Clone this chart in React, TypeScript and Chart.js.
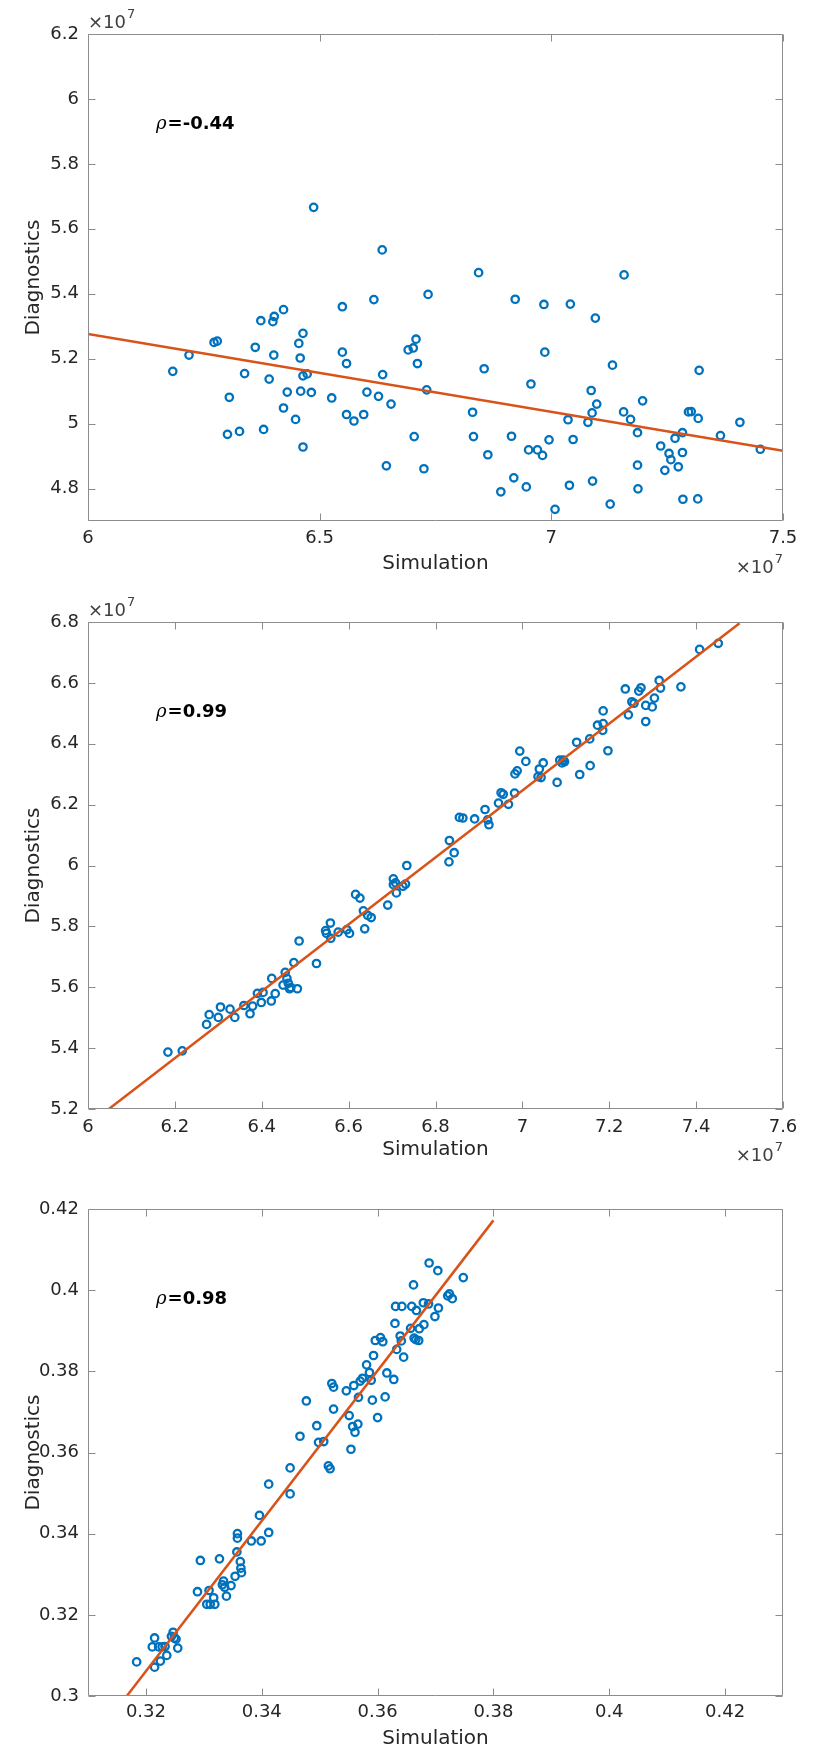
import React, { useEffect, useRef } from "react";
import { Chart, registerables } from "chart.js";
Chart.register(...registerables);

// ---------- Data (plots 1 and 2 in units of 1e7) ----------
const sim1 = [6.183, 6.218, 6.272, 6.279, 6.305, 6.301, 6.327, 6.338, 6.361, 6.373,
  6.379, 6.391, 6.399, 6.402, 6.401, 6.422, 6.422, 6.430, 6.448, 6.455,
  6.458, 6.464, 6.459, 6.464, 6.473, 6.482, 6.464, 6.487, 6.526, 6.549,
  6.549, 6.558, 6.558, 6.574, 6.595, 6.602, 6.617, 6.627, 6.635, 6.636,
  6.644, 6.654, 6.691, 6.702, 6.708, 6.704, 6.711, 6.731, 6.734, 6.725,
  6.830, 6.832, 6.843, 6.855, 6.863, 6.891, 6.914, 6.919, 6.922, 6.946,
  6.951, 6.956, 6.970, 6.981, 6.984, 6.986, 6.995, 7.008, 7.036, 7.039,
  7.041, 7.047, 7.079, 7.086, 7.088, 7.089, 7.095, 7.098, 7.127, 7.132,
  7.156, 7.157, 7.171, 7.186, 7.186, 7.187, 7.197, 7.236, 7.245, 7.254,
  7.258, 7.267, 7.274, 7.283, 7.283, 7.284, 7.296, 7.302, 7.316, 7.317,
  7.319, 7.365, 7.407, 7.451];
const diag1 = [5.161, 5.211, 5.250, 5.254, 5.081, 4.967, 4.976, 5.154, 5.235, 5.317,
  4.982, 5.137, 5.314, 5.330, 5.211, 5.351, 5.048, 5.097, 5.013, 5.247,
  5.202, 5.278, 5.100, 5.147, 5.153, 5.096, 4.928, 5.666, 5.079, 5.360,
  5.220, 5.185, 5.028, 5.008, 5.028, 5.097, 5.382, 5.084, 5.535, 5.151,
  4.870, 5.060, 5.227, 5.233, 5.260, 4.960, 5.185, 5.104, 5.398, 4.861,
  5.035, 4.960, 5.465, 5.169, 4.904, 4.790, 4.961, 4.833, 5.383, 4.805,
  4.919, 5.122, 4.919, 4.902, 5.367, 5.220, 4.950, 4.736, 5.012, 4.810,
  5.368, 4.951, 5.004, 5.102, 5.033, 4.823, 5.325, 5.060, 4.752, 5.180,
  5.036, 5.458, 5.013, 4.972, 4.872, 4.799, 5.070, 4.931, 4.856, 4.908,
  4.889, 4.955, 4.867, 4.972, 4.911, 4.767, 5.036, 5.037, 4.768, 5.016,
  5.164, 4.963, 5.004, 4.921];
const fit1X = [6.0, 7.5];
const fit1Y = [5.276, 4.916];

const sim2 = [6.184, 6.217, 6.273, 6.279, 6.300, 6.305, 6.327, 6.338, 6.359, 6.373,
  6.379, 6.390, 6.399, 6.403, 6.422, 6.423, 6.431, 6.449, 6.454, 6.458,
  6.461, 6.464, 6.467, 6.474, 6.482, 6.486, 6.526, 6.547, 6.549, 6.558,
  6.559, 6.576, 6.596, 6.602, 6.616, 6.626, 6.634, 6.637, 6.644, 6.652,
  6.690, 6.703, 6.703, 6.708, 6.710, 6.725, 6.731, 6.734, 6.831, 6.832,
  6.843, 6.855, 6.863, 6.890, 6.914, 6.920, 6.923, 6.945, 6.951, 6.956,
  6.968, 6.982, 6.983, 6.988, 6.994, 7.008, 7.036, 7.039, 7.043, 7.048,
  7.080, 7.086, 7.091, 7.094, 7.097, 7.125, 7.132, 7.155, 7.156, 7.173,
  7.185, 7.186, 7.186, 7.197, 7.237, 7.244, 7.252, 7.257, 7.268, 7.273,
  7.284, 7.284, 7.299, 7.304, 7.315, 7.318, 7.365, 7.408, 7.451];
const diag2 = [5.387, 5.391, 5.478, 5.510, 5.501, 5.535, 5.528, 5.501, 5.540, 5.513,
  5.538, 5.580, 5.550, 5.583, 5.555, 5.629, 5.579, 5.607, 5.649, 5.629,
  5.613, 5.595, 5.599, 5.681, 5.595, 5.752, 5.678, 5.786, 5.777, 5.811,
  5.761, 5.781, 5.789, 5.777, 5.905, 5.893, 5.851, 5.792, 5.836, 5.829,
  5.870, 5.956, 5.937, 5.943, 5.910, 5.932, 5.939, 6.000, 6.012, 6.082,
  6.042, 6.158, 6.156, 6.153, 6.184, 6.150, 6.134, 6.205, 6.239, 6.234,
  6.201, 6.238, 6.301, 6.311, 6.376, 6.342, 6.292, 6.317, 6.289, 6.337,
  6.273, 6.346, 6.337, 6.346, 6.341, 6.405, 6.299, 6.416, 6.328, 6.461,
  6.444, 6.466, 6.508, 6.377, 6.580, 6.495, 6.538, 6.533, 6.573, 6.584,
  6.526, 6.473, 6.521, 6.550, 6.608, 6.583, 6.587, 6.710, 6.730];
const fit2X = [6.048, 7.5];
const fit2Y = [5.2, 6.796];

const sim3 = [0.3184, 0.3215, 0.3211, 0.3215, 0.3222, 0.3225, 0.3228, 0.3233, 0.3236, 0.3244,
  0.3247, 0.3249, 0.3252, 0.3255, 0.3289, 0.3294, 0.3305, 0.3309, 0.3311, 0.3317,
  0.3319, 0.3327, 0.3332, 0.3334, 0.3336, 0.3339, 0.3347, 0.3354, 0.3357, 0.3358,
  0.3358, 0.3363, 0.3364, 0.3365, 0.3382, 0.3396, 0.3399, 0.3412, 0.3412, 0.3449,
  0.3449, 0.3466, 0.3477, 0.3495, 0.3498, 0.3507, 0.3515, 0.3518, 0.3521, 0.3524,
  0.3524, 0.3546, 0.3551, 0.3554, 0.3557, 0.3559, 0.3561, 0.3566, 0.3567, 0.3570,
  0.3574, 0.3581, 0.3586, 0.3589, 0.3591, 0.3593, 0.3596, 0.3600, 0.3605, 0.3609,
  0.3613, 0.3616, 0.3628, 0.3630, 0.3631, 0.3633, 0.3639, 0.3641, 0.3642, 0.3645,
  0.3657, 0.3659, 0.3662, 0.3663, 0.3666, 0.3667, 0.3671, 0.3672, 0.3679, 0.3680,
  0.3688, 0.3689, 0.3699, 0.3704, 0.3705, 0.3721, 0.3724, 0.3729, 0.3748];
const diag3 = [0.3084, 0.3143, 0.3121, 0.3071, 0.3121, 0.3086, 0.3121, 0.3122, 0.3100, 0.3147,
  0.3157, 0.3143, 0.3140, 0.3118, 0.3257, 0.3334, 0.3226, 0.3260, 0.3226, 0.3242,
  0.3226, 0.3338, 0.3274, 0.3283, 0.3268, 0.3246, 0.3272, 0.3295, 0.3355, 0.3400,
  0.3389, 0.3331, 0.3315, 0.3304, 0.3382, 0.3445, 0.3382, 0.3403, 0.3522, 0.3562,
  0.3498, 0.3640, 0.3727, 0.3666, 0.3625, 0.3627, 0.3567, 0.3560, 0.3770, 0.3761,
  0.3707, 0.3752, 0.3691, 0.3608, 0.3664, 0.3765, 0.3650, 0.3670, 0.3736, 0.3776,
  0.3783, 0.3816, 0.3797, 0.3778, 0.3729, 0.3839, 0.3876, 0.3686, 0.3883, 0.3873,
  0.3737, 0.3796, 0.3780, 0.3918, 0.3960, 0.3854, 0.3887, 0.3875, 0.3960, 0.3835,
  0.3906, 0.3960, 0.4013, 0.3882, 0.3878, 0.3950, 0.3876, 0.3905, 0.3969, 0.3915,
  0.3966, 0.4067, 0.3935, 0.4048, 0.3956, 0.3986, 0.3991, 0.3979, 0.4031];
const fit3X = [0.3167, 0.38];
const fit3Y = [0.30, 0.4172];

// ---------- Ticks ----------
const xTicks1 = [6, 6.5, 7, 7.5];
const yTicks1 = [4.8, 5, 5.2, 5.4, 5.6, 5.8, 6, 6.2];
const xTicks2 = [6, 6.2, 6.4, 6.6, 6.8, 7, 7.2, 7.4, 7.6];
const yTicks2 = [5.2, 5.4, 5.6, 5.8, 6, 6.2, 6.4, 6.6, 6.8];
const xTicks3 = [0.32, 0.34, 0.36, 0.38, 0.4, 0.42];
const yTicks3 = [0.3, 0.32, 0.34, 0.36, 0.38, 0.4, 0.42];

const rhoLabels = ["-0.44", "0.99", "0.98"];
const X_TITLE = "Simulation";
const Y_TITLE = "Diagnostics";

const FONT = "DejaVu Sans";
const TEXT = "#262626";
const BLUE = "#0072BD";
const ORANGE = "#D95319";

type Plot = {
  xs: number[]; ys: number[]; fx: number[]; fy: number[];
  xMin: number; xMax: number; yMin: number; yMax: number;
  xTicks: number[]; yTicks: number[]; rho: string; exp: boolean;
  top: number; h: number; padTop: number; xH: number; titlePad: number; tickPad: number;
};

const PLOTS: Plot[] = [
  { xs: sim1, ys: diag1, fx: fit1X, fy: fit1Y, xMin: 6, xMax: 7.5, yMin: 4.7, yMax: 6.2,
    xTicks: xTicks1, yTicks: yTicks1, rho: rhoLabels[0], exp: true,
    top: 0, h: 590, padTop: 34, xH: 69, titlePad: 14, tickPad: 7 },
  { xs: sim2, ys: diag2, fx: fit2X, fy: fit2Y, xMin: 6, xMax: 7.6, yMin: 5.2, yMax: 6.8,
    xTicks: xTicks2, yTicks: yTicks2, rho: rhoLabels[1], exp: true,
    top: 590, h: 590, padTop: 32, xH: 71, titlePad: 18, tickPad: 8 },
  { xs: sim3, ys: diag3, fx: fit3X, fy: fit3Y, xMin: 0.31, xMax: 0.43, yMin: 0.3, yMax: 0.42,
    xTicks: xTicks3, yTicks: yTicks3, rho: rhoLabels[2], exp: false,
    top: 1180, h: 571, padTop: 29, xH: 55, titlePad: 0, tickPad: 6 },
];

const fmt = (v: number) => String(Math.round(v * 10000) / 10000);

const framePlugin = {
  id: "frame",
  afterDatasetsDraw(chart: any, _args: any, opts: any) {
    const { ctx, chartArea: a, scales } = chart;
    const L = Math.round(a.left) + 0.5, R = Math.round(a.right) - 0.5;
    const T = Math.round(a.top) + 0.5, B = Math.round(a.bottom) - 0.5;
    ctx.save();
    ctx.strokeStyle = "#8c8c8c";
    ctx.lineWidth = 1;
    ctx.beginPath();
    ctx.rect(L, T, R - L, B - T);
    const tl = 7;
    scales.x.ticks.forEach((t: any) => {
      const p = Math.round(scales.x.getPixelForValue(t.value)) + 0.5;
      ctx.moveTo(p, B); ctx.lineTo(p, B - tl);
      ctx.moveTo(p, T); ctx.lineTo(p, T + tl);
    });
    scales.y.ticks.forEach((t: any) => {
      const p = Math.round(scales.y.getPixelForValue(t.value)) + 0.5;
      ctx.moveTo(L, p); ctx.lineTo(L + tl, p);
      ctx.moveTo(R, p); ctx.lineTo(R - tl, p);
    });
    ctx.stroke();

    // rho annotation
    const ry = a.top + 90.5;
    let rx = a.left + 68;
    ctx.fillStyle = "#000";
    ctx.textBaseline = "middle";
    ctx.textAlign = "left";
    ctx.font = `italic 18px "DejaVu Serif"`;
    ctx.fillText("ρ", rx, ry);
    rx += ctx.measureText("ρ").width + 1;
    ctx.font = `bold 18px "${FONT}"`;
    ctx.fillText("=" + opts.rho, rx, ry);

    // exponent labels
    if (opts.exp) {
      const drawExp = (xLeft: number, yc: number) => {
        ctx.fillStyle = "#404040";
        ctx.font = `18px "${FONT}"`;
        ctx.textAlign = "left";
        ctx.fillText("×10", xLeft, yc);
        const w = ctx.measureText("×10").width;
        ctx.font = `13px "${FONT}"`;
        ctx.fillText("7", xLeft + w + 1, yc - 8);
      };
      drawExp(a.left, a.top - 11);
      ctx.font = `18px "${FONT}"`;
      const w1 = ctx.measureText("×10").width;
      ctx.font = `13px "${FONT}"`;
      const w2 = ctx.measureText("7").width;
      drawExp(a.right - w1 - w2 - 1, a.bottom + 47);
    }
    ctx.restore();
  },
};

function makeConfig(p: Plot): any {
  return {
    type: "scatter",
    data: {
      datasets: [
        {
          type: "line",
          data: p.fx.map((v, i) => ({ x: v, y: p.fy[i] })),
          borderColor: ORANGE,
          borderWidth: 2.5,
          pointRadius: 0,
          showLine: true,
          fill: false,
          tension: 0,
        },
        {
          type: "scatter",
          data: p.xs.map((v, i) => ({ x: v, y: p.ys[i] })),
          pointStyle: "circle",
          pointRadius: 3.7,
          pointBorderWidth: 2.3,
          borderWidth: 2.3,
          borderColor: BLUE,
          pointBorderColor: BLUE,
          backgroundColor: "rgba(0,0,0,0)",
          pointBackgroundColor: "rgba(0,0,0,0)",
        },
      ],
    },
    options: {
      responsive: false,
      animation: false,
      devicePixelRatio: 1,
      events: [],
      layout: { padding: { top: p.padTop, right: 30, left: 0, bottom: 0 } },
      plugins: {
        legend: { display: false },
        tooltip: { enabled: false },
        frame: { rho: p.rho, exp: p.exp },
      },
      scales: {
        x: {
          type: "linear",
          position: "bottom",
          min: p.xMin,
          max: p.xMax,
          afterBuildTicks: (s: any) => { s.ticks = p.xTicks.map((v) => ({ value: v })); },
          afterFit: (s: any) => { s.height = p.xH; },
          grid: { display: false, drawTicks: false },
          border: { display: false },
          ticks: {
            autoSkip: false, maxRotation: 0, padding: p.tickPad,
            color: TEXT, font: { family: FONT, size: 18 },
            callback: (v: number) => fmt(v),
          },
          title: {
            display: true, text: X_TITLE, color: TEXT,
            font: { family: FONT, size: 20 },
            padding: { top: 0, bottom: p.titlePad },
          },
        },
        y: {
          type: "linear",
          position: "left",
          min: p.yMin,
          max: p.yMax,
          afterBuildTicks: (s: any) => { s.ticks = p.yTicks.map((v) => ({ value: v })); },
          afterFit: (s: any) => { s.width = 88; },
          grid: { display: false, drawTicks: false },
          border: { display: false },
          ticks: {
            autoSkip: false, padding: 9,
            color: TEXT, font: { family: FONT, size: 18 },
            callback: (v: number) => fmt(v),
          },
          title: {
            display: true, text: Y_TITLE, color: TEXT,
            font: { family: FONT, size: 20 },
            padding: { top: 22, bottom: 0 },
          },
        },
      },
    },
    plugins: [framePlugin],
  };
}

export default function App() {
  const r0 = useRef<HTMLCanvasElement>(null);
  const r1 = useRef<HTMLCanvasElement>(null);
  const r2 = useRef<HTMLCanvasElement>(null);
  const refs = [r0, r1, r2];
  useEffect(() => {
    const charts = PLOTS.map((p, i) => new Chart(refs[i].current as HTMLCanvasElement, makeConfig(p)));
    return () => charts.forEach((c) => c.destroy());
  }, []);
  return (
    <div style={{ position: "absolute", left: 0, top: 0, width: 813, height: 1751, background: "#fff" }}>
      {PLOTS.map((p, i) => (
        <canvas
          key={i}
          ref={refs[i]}
          width={813}
          height={p.h}
          style={{ position: "absolute", left: 0, top: p.top, width: 813, height: p.h, display: "block" }}
        />
      ))}
    </div>
  );
}
